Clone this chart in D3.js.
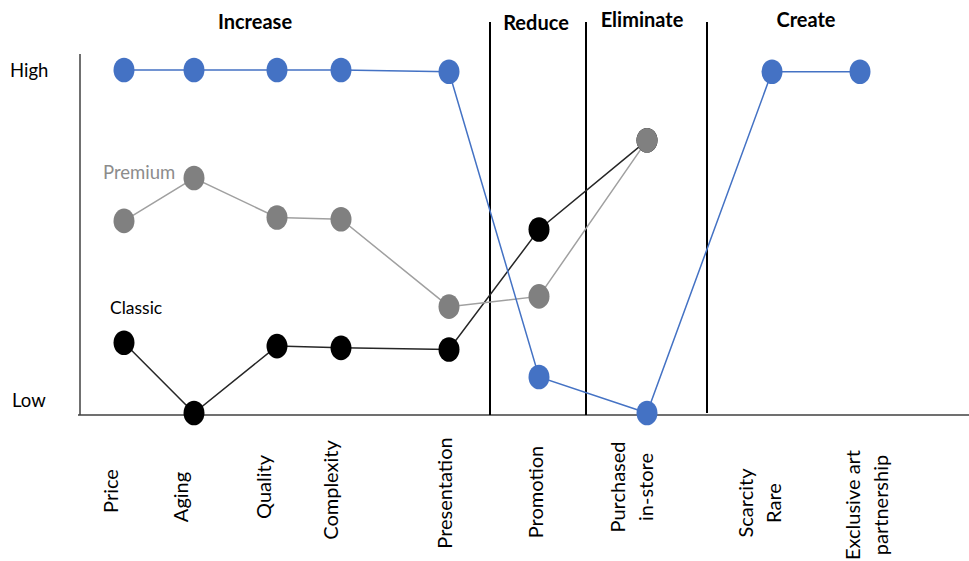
<!DOCTYPE html>
<html>
<head>
<meta charset="utf-8">
<script src="https://cdn.jsdelivr.net/npm/d3@7"></script>
<style>
  html, body { margin: 0; padding: 0; background: #fff; }
  svg { display: block; font-family: Lato, "Open Sans", sans-serif; }
</style>
</head>
<body>
<svg id="chart" width="969" height="561"></svg>
<script>
// Strategy canvas: factor ratings from Low (0) to High (10)
const categories = ["Price", "Aging", "Quality", "Complexity", "Presentation",
                    "Promotion", "Purchased in-store", "Scarcity Rare", "Exclusive art partnership"];
const categoryLines = [["Price"], ["Aging"], ["Quality"], ["Complexity"], ["Presentation"],
                       ["Promotion"], ["Purchased", "in-store"], ["Scarcity", "Rare"], ["Exclusive art", "partnership"]];

const newOffer = [10, 10, 10, 10, 9.95, 1.05, 0, 9.95, 9.95];
const premium  = [5.6, 6.85, 5.7, 5.65, 3.1, 3.4, 7.95];
const classic  = [2.05, 0, 1.95, 1.9, 1.85, 5.35, 7.95];

const groups = ["Increase", "Reduce", "Eliminate", "Create"];
const levelLabels = ["High", "Low"];

const series = [
  { name: "Classic", values: classic,  line: "#262626", fill: "#000000" },
  { name: "Premium", values: premium,  line: "#a0a0a0", fill: "#808080" },
  { name: "New",     values: newOffer, line: "#4472c4", fill: "#4472c4" }
];

const svg = d3.select("#chart");

// Irregular column spacing along the factor axis
const x = d3.scaleOrdinal()
  .domain(categories)
  .range([124, 194, 277, 341, 449, 539, 647, 772, 860]);
const labelX = d3.scaleOrdinal()
  .domain(categories)
  .range([110, 180, 263, 330, 444, 535, 631, 759, 866]);
const labelY = d3.scaleOrdinal()
  .domain(categories)
  .range([491, 497, 487, 490, 493, 492, 487, 503, 505]);

const y = d3.scaleLinear().domain([0, 10]).range([413, 70]);

// Axes frame
svg.append("line").attr("x1", 80).attr("x2", 80).attr("y1", 54).attr("y2", 415)
  .attr("stroke", "#404040").attr("stroke-width", 1.5);
svg.append("line").attr("x1", 78).attr("x2", 969).attr("y1", 415).attr("y2", 415)
  .attr("stroke", "#404040").attr("stroke-width", 1.5);

// Section dividers and headings
const dividers = [490, 586, 707];
svg.selectAll("line.divider").data(dividers).join("line")
  .attr("class", "divider")
  .attr("x1", d => d).attr("x2", d => d)
  .attr("y1", 22).attr("y2", (d, i) => i === 2 ? 413 : 415)
  .attr("stroke", "#000").attr("stroke-width", 2);

const groupX = d3.scaleOrdinal().domain(groups).range([255, 536, 642, 806]);
const groupY = d3.scaleOrdinal().domain(groups).range([21, 22, 19, 19]);
svg.selectAll("text.group").data(groups).join("text")
  .attr("class", "group")
  .attr("x", d => groupX(d)).attr("y", d => groupY(d))
  .attr("text-anchor", "middle").attr("dominant-baseline", "central")
  .attr("font-weight", "bold").attr("font-size", 20)
  .text(d => d);

// High / Low level labels
svg.append("text").attr("x", 10).attr("y", y(10)).attr("dominant-baseline", "central")
  .attr("font-size", 18.5).text(levelLabels[0]);
svg.append("text").attr("x", 12).attr("y", y(0) - 13).attr("dominant-baseline", "central")
  .attr("font-size", 18.5).text(levelLabels[1]);

// Rotated factor labels
const lab = svg.selectAll("g.cat").data(categories).join("g")
  .attr("class", "cat")
  .attr("transform", d => `translate(${labelX(d)},${labelY(d)}) rotate(-90)`);
lab.each(function(d, i) {
  const lines = categoryLines[i];
  const g = d3.select(this);
  lines.forEach((t, j) => {
    g.append("text")
      .attr("x", 0)
      .attr("y", (j - (lines.length - 1) / 2) * 28)
      .attr("text-anchor", "middle").attr("dominant-baseline", "central")
      .attr("font-size", 20)
      .text(t);
  });
});

// Series lines and markers
const line = d3.line().x((d, i) => x(categories[i])).y(d => y(d));
series.forEach(s => {
  svg.append("path").datum(s.values)
    .attr("d", line)
    .attr("fill", "none").attr("stroke", s.line).attr("stroke-width", 1.5);
});
series.forEach(s => {
  svg.append("g").selectAll("ellipse").data(s.values).join("ellipse")
    .attr("cx", (d, i) => x(categories[i])).attr("cy", d => y(d))
    .attr("rx", 10.5).attr("ry", 12.3)
    .attr("fill", s.fill);
});

// Series names
svg.append("text").attr("x", 103).attr("y", 172).attr("dominant-baseline", "central")
  .attr("font-size", 18.5).attr("fill", "#8c8c8c").text("Premium");
svg.append("text").attr("x", 110).attr("y", 307).attr("dominant-baseline", "central")
  .attr("font-size", 17.5).attr("fill", "#000").text("Classic");
</script>
</body>
</html>
